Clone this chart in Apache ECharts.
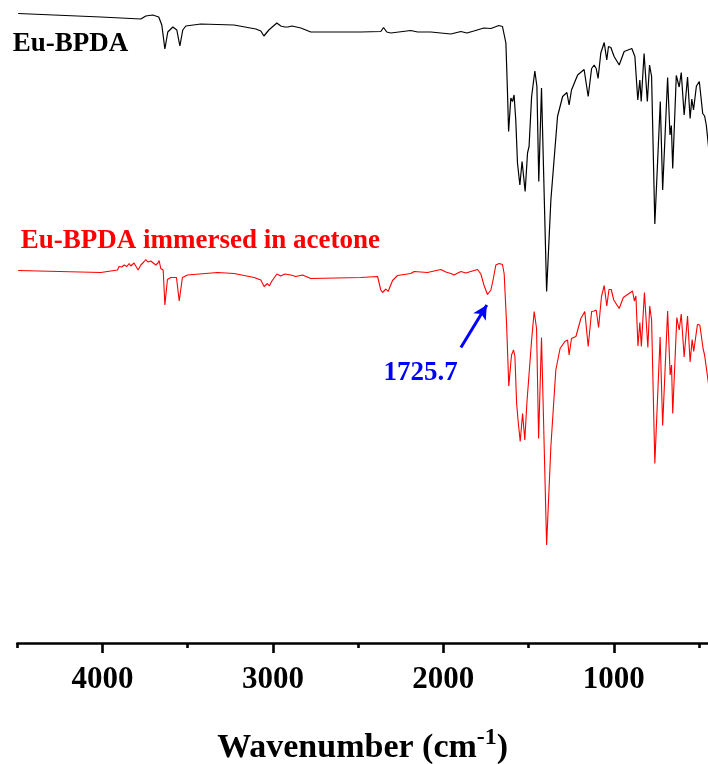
<!DOCTYPE html>
<html>
<head>
<meta charset="utf-8">
<script src="https://cdn.jsdelivr.net/npm/echarts@6/dist/echarts.min.js"></script>
<style>
  html, body { margin: 0; padding: 0; background: #ffffff; }
  #chart { width: 708px; height: 764px; }
</style>
</head>
<body>
<div id="chart"></div>
<script>
// FT-IR spectra (offset transmittance, arbitrary units) vs. wavenumber
const blackWavenumber = [4495, 4010, 3775, 3746, 3705, 3670, 3652, 3634, 3617, 3587, 3564, 3546, 3529, 3511, 3423, 3229, 3100, 3071, 3053, 3024, 2977, 2954, 2930, 2912, 2889, 2836, 2778, 2484, 2367, 2351, 2332, 2308, 2191, 2151, 2073, 1956, 1897, 1862, 1821, 1762, 1721, 1674, 1653, 1633, 1624, 1617, 1604, 1594, 1585, 1575, 1565, 1551, 1538, 1520, 1506, 1497, 1482, 1463, 1451, 1440, 1424, 1394, 1369, 1330, 1300, 1275, 1262, 1248, 1212, 1174, 1150, 1130, 1115, 1103, 1092, 1076, 1056, 1041, 1031, 1017, 998, 968, 939, 894, 876, 869, 859, 847, 839, 822, 803, 790, 778, 759, 727, 713, 684, 670, 662, 654, 633, 616, 604, 587, 567, 552, 542, 532, 515, 498, 478, 467, 457, 442, 425];
const blackSignal = [125.9, 125.2, 124.8, 125.4, 125.6, 125.2, 123.6, 118.8, 122.2, 123.2, 122.6, 119.4, 122.6, 123.4, 123.8, 123.6, 122.8, 122.4, 121.4, 122.6, 124.0, 123.4, 123.2, 123.2, 123.4, 123.0, 122.2, 122.2, 122.3, 123.1, 122.2, 122.0, 122.5, 122.2, 122.2, 121.8, 122.3, 122.0, 122.4, 123.0, 122.9, 123.5, 123.3, 120.0, 110.6, 102.3, 109.0, 108.3, 109.6, 104.6, 96.0, 91.6, 96.3, 90.3, 98.0, 99.3, 109.3, 114.4, 111.3, 92.3, 111.0, 70.3, 88.6, 105.3, 109.3, 110.1, 107.6, 110.6, 113.6, 114.7, 109.3, 114.9, 115.6, 114.9, 112.9, 118.0, 120.1, 116.6, 119.3, 119.1, 117.3, 115.6, 118.3, 118.9, 117.3, 117.6, 108.6, 112.6, 108.3, 117.9, 108.3, 115.6, 113.3, 83.8, 108.3, 90.6, 113.1, 101.6, 103.5, 94.9, 113.5, 111.2, 114.1, 105.6, 113.2, 104.9, 108.8, 106.6, 111.4, 112.3, 105.9, 105.4, 103.6, 98.6, 95.0];

const redWavenumber = [4495, 4010, 3912, 3903, 3887, 3873, 3857, 3844, 3834, 3824, 3815, 3805, 3791, 3775, 3758, 3746, 3734, 3727, 3717, 3707, 3687, 3675, 3668, 3658, 3644, 3634, 3619, 3599, 3566, 3550, 3531, 3501, 3325, 3228, 3110, 3071, 3052, 3032, 3021, 3008, 2977, 2954, 2930, 2895, 2866, 2826, 2778, 2484, 2386, 2367, 2357, 2337, 2324, 2298, 2269, 2191, 2171, 2093, 2015, 1985, 1956, 1937, 1897, 1868, 1839, 1799, 1780, 1761, 1741, 1721, 1707, 1692, 1673, 1653, 1643, 1629, 1616, 1600, 1588, 1580, 1570, 1561, 1549, 1535, 1522, 1510, 1500, 1482, 1467, 1453, 1441, 1424, 1394, 1369, 1340, 1315, 1287, 1271, 1262, 1248, 1222, 1193, 1170, 1150, 1130, 1115, 1103, 1089, 1072, 1056, 1041, 1028, 1015, 1000, 968, 944, 890, 879, 870, 858, 847, 838, 820, 800, 789, 778, 759, 728, 713, 684, 669, 661, 654, 630, 616, 604, 587, 567, 552, 540, 531, 509, 495, 476, 467, 442, 425];
const redSignal = [74.5, 74.1, 74.6, 75.3, 75.2, 75.6, 75.3, 75.9, 75.4, 75.6, 76.0, 75.6, 74.6, 75.6, 76.2, 76.7, 76.2, 75.9, 76.4, 76.1, 75.6, 76.0, 76.5, 74.9, 74.6, 67.6, 72.7, 73.1, 73.1, 68.4, 73.1, 73.6, 74.1, 73.9, 73.1, 72.6, 71.3, 71.9, 71.4, 72.3, 73.8, 73.4, 73.8, 73.6, 73.3, 73.6, 72.9, 73.1, 73.3, 70.6, 70.1, 70.8, 70.3, 72.5, 73.5, 73.9, 74.3, 74.1, 74.7, 74.2, 73.9, 73.6, 74.3, 74.0, 74.3, 74.7, 73.8, 71.5, 69.7, 70.6, 72.8, 75.6, 75.9, 75.7, 73.8, 63.9, 51.4, 57.6, 58.6, 57.3, 47.9, 44.3, 40.3, 45.9, 40.6, 47.9, 48.3, 60.6, 66.3, 62.9, 40.9, 61.1, 19.6, 39.3, 54.6, 58.9, 60.3, 60.6, 57.6, 60.9, 61.3, 64.9, 66.3, 59.3, 66.3, 66.4, 66.6, 63.1, 69.3, 71.5, 67.4, 70.7, 70.7, 68.6, 66.9, 69.1, 70.4, 68.4, 69.4, 59.4, 64.1, 59.3, 70.1, 59.1, 67.4, 64.6, 35.9, 61.2, 43.5, 66.4, 53.6, 55.6, 45.9, 65.1, 62.6, 65.8, 57.2, 65.4, 56.2, 60.7, 58.3, 63.7, 63.6, 58.9, 57.6, 51.3, 47.0];

// Axis ticks
const majorTicks = [4000, 3000, 2000, 1000];
const minorTicks = [4500, 3500, 2500, 1500, 500];

// Annotation: carbonyl band of adsorbed acetone
const peakLabel = '1725.7';
const arrowFrom = [1897, 59.1];
const arrowTo = [1745, 67.6];
const peakLabelAt = [2134, 54.0];

const serif = '"Times New Roman", "Liberation Serif", serif';

function pairs(xs, ys) {
  return xs.map((x, i) => [x, ys[i]]);
}

const chart = echarts.init(document.getElementById('chart'), null, { renderer: 'canvas' });

// visible wavenumber window (the scan continues slightly past the right edge)
const xRange = { type: 'value', min: 447, max: 4500, inverse: true, gridIndex: 0, position: 'bottom', splitLine: { show: false } };

chart.setOption({
  animation: false,
  backgroundColor: '#ffffff',
  grid: { left: 17.3, right: 0, top: 3, bottom: 121, containLabel: false, outerBoundsMode: 'none' },
  xAxis: [
    Object.assign({}, xRange, {
      axisLine: { show: true, lineStyle: { color: '#000', width: 2.7 } },
      axisTick: { show: true, customValues: majorTicks, length: 10, lineStyle: { color: '#000', width: 2.6 } },
      axisLabel: {
        show: true, customValues: majorTicks, margin: 21,
        formatter: (v) => String(v),
        color: '#000', fontFamily: serif, fontWeight: 'bold', fontSize: 31
      },
      name: '{m|Wavenumber (cm}{s|-1}{m|)}',
      nameLocation: 'middle',
      nameGap: 83,
      nameTextStyle: {
        rich: {
          m: { fontFamily: serif, fontWeight: 'bold', fontSize: 34, color: '#000', verticalAlign: 'bottom' },
          s: { fontFamily: serif, fontWeight: 'bold', fontSize: 24, color: '#000', verticalAlign: 'top', padding: [0, 0, 15, 0] }
        }
      }
    }),
    Object.assign({}, xRange, {
      axisLine: { show: false },
      axisTick: { show: true, customValues: minorTicks, length: 5, lineStyle: { color: '#000', width: 2.6 } },
      axisLabel: { show: false }
    })
  ],
  yAxis: { type: 'value', min: 0, max: 128, show: false, splitLine: { show: false } },
  series: [
    {
      name: 'Eu-BPDA',
      type: 'line',
      xAxisIndex: 0,
      data: pairs(blackWavenumber, blackSignal),
      showSymbol: false,
      lineStyle: { color: '#000000', width: 1.2 },
      z: 3
    },
    {
      name: 'Eu-BPDA immersed in acetone',
      type: 'line',
      xAxisIndex: 0,
      data: pairs(redWavenumber, redSignal),
      showSymbol: false,
      lineStyle: { color: '#ff0000', width: 1.1 },
      z: 2,
      markLine: {
        silent: true,
        symbol: ['none', 'arrow'],
        symbolSize: [11, 14],
        lineStyle: { color: '#0000ff', width: 3, type: 'solid' },
        label: { show: false },
        data: [[{ coord: arrowFrom }, { coord: arrowTo }]]
      },
      markPoint: {
        silent: true,
        symbol: 'circle',
        symbolSize: 0,
        label: {
          show: true, position: 'inside', formatter: peakLabel,
          color: '#0000ff', fontFamily: serif, fontWeight: 'bold', fontSize: 27
        },
        data: [{ coord: peakLabelAt }]
      }
    }
  ],
  graphic: [
    {
      type: 'text', left: 12.7, top: 31,
      style: { text: 'Eu-BPDA', fill: '#000000', font: 'bold 27px ' + serif }
    },
    {
      type: 'text', left: 20.7, top: 227.5,
      style: { text: 'Eu-BPDA immersed in acetone', fill: '#ff0000', font: 'bold 27px ' + serif }
    }
  ]
});
</script>
</body>
</html>
